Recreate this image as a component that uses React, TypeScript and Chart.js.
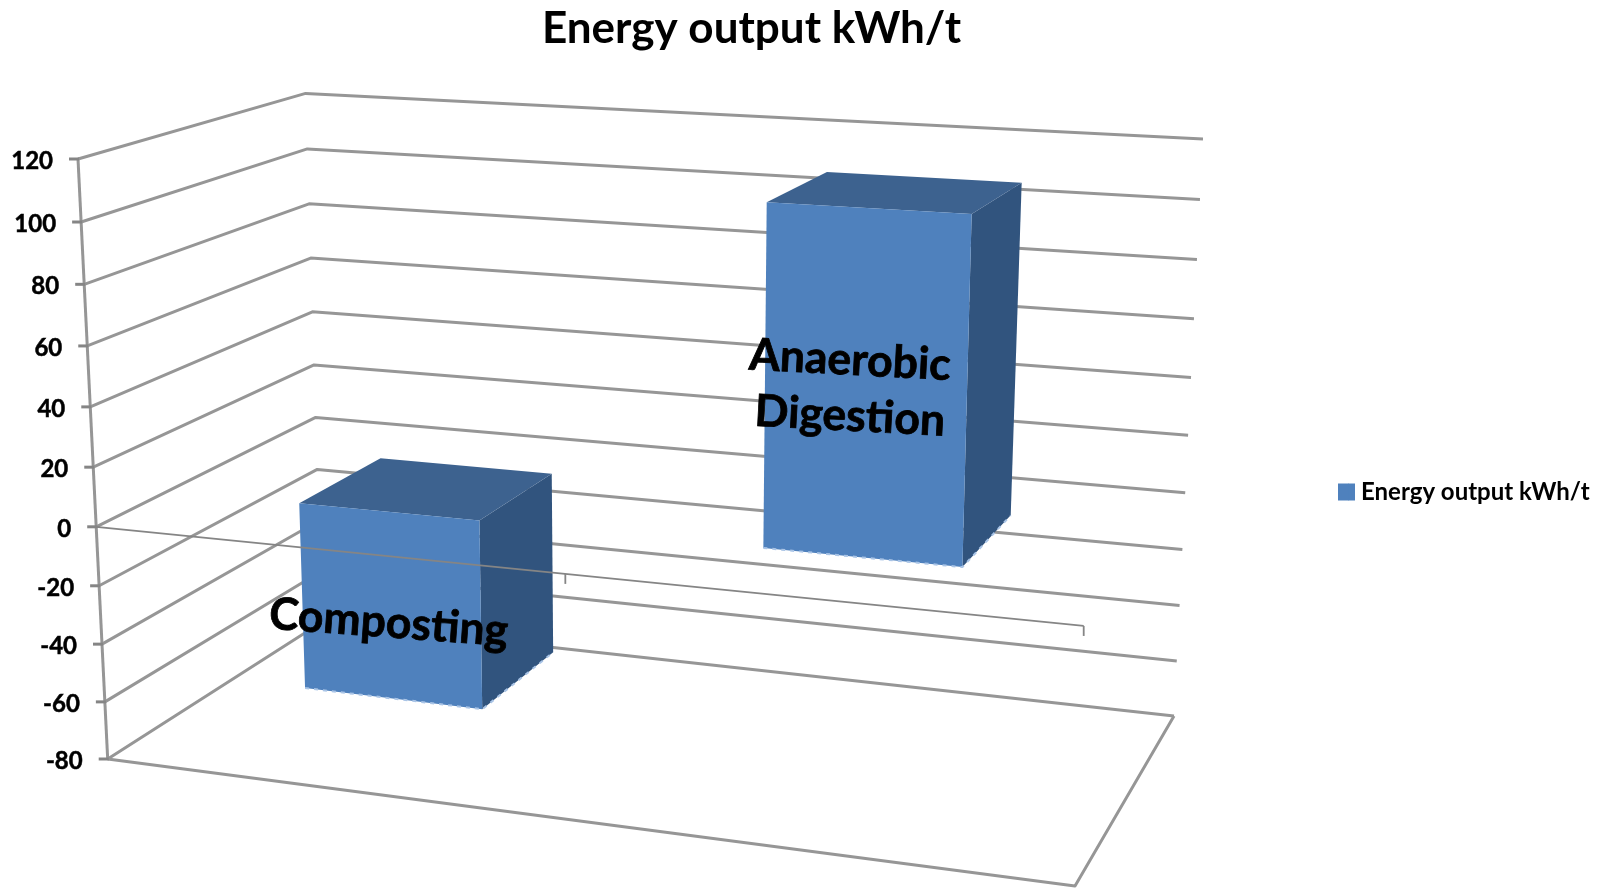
import React, { useEffect, useRef } from "react";
import { Chart, registerables } from "chart.js";

Chart.register(...registerables);

// ---- data ----
const categories: (string | string[])[] = ["Composting", ["Anaerobic", "Digestion"]];
const seriesName = "Energy output kWh/t";
const seriesValues = [-65, 110];
const valueTicks = [-80, -60, -40, -20, 0, 20, 40, 60, 80, 100, 120];

// ---- camera: where the plot box's eight corners land on the page ----
type Pt = [number, number];
const floorBox = { fl: [107.7, 759] as Pt, fr: [1075, 886] as Pt, bl: [322, 622] as Pt, br: [1174, 716] as Pt };
const ceilBox = { fl: [78, 159] as Pt, fr: [1097.5, 214] as Pt, bl: [305.6, 93.4] as Pt, br: [1203, 139] as Pt };
const persU = 1.105;
const persV = 1.056;
const barDepth = [0.33, 0.73];
const labelNudge: Pt[] = [[-2, 17], [-15, 3]];

const FONT = "Lato, Carlito, sans-serif";
const GRID = "#969696";
const AXIS = "#858585";
const FRONT = "#4f81bd";
const TOP = "#3d628f";
const SIDE = "#31547e";
const EDGE = "#a9c4e6";

const mix = (a: Pt, b: Pt, k: number): Pt => [a[0] + (b[0] - a[0]) * k, a[1] + (b[1] - a[1]) * k];
const persp = (t: number, k: number) => t / (t + k * (1 - t));

function project(u: number, v: number, w: number): Pt {
  const a = persp(u, persU);
  const s = persp(v, persV);
  const fl = mix(floorBox.fl, ceilBox.fl, s);
  const fr = mix(floorBox.fr, ceilBox.fr, s);
  const bl = mix(floorBox.bl, ceilBox.bl, s);
  const br = mix(floorBox.br, ceilBox.br, s);
  return mix(mix(fl, fr, a), mix(bl, br, a), w);
}

function poly(ctx: CanvasRenderingContext2D, pts: Pt[], fill: string) {
  ctx.beginPath();
  pts.forEach((p, i) => (i ? ctx.lineTo(p[0], p[1]) : ctx.moveTo(p[0], p[1])));
  ctx.closePath();
  ctx.fillStyle = fill;
  ctx.fill();
}

function line(ctx: CanvasRenderingContext2D, pts: Pt[], color: string, width: number, dash: number[] = []) {
  ctx.beginPath();
  pts.forEach((p, i) => (i ? ctx.lineTo(p[0], p[1]) : ctx.moveTo(p[0], p[1])));
  ctx.strokeStyle = color;
  ctx.lineWidth = width;
  ctx.setLineDash(dash);
  ctx.stroke();
  ctx.setLineDash([]);
}

const box3d = {
  id: "box3d",
  afterLayout(chart: any) {
    const t = chart.titleBlock;
    t.left = 0;
    t.right = 1503;
    const l = chart.legend;
    l.left = 1328;
    l.right = 1608;
    l.top = 470;
    l.bottom = 520;
  },
  beforeDatasetsDraw(chart: any) {
    const { ctx, chartArea: ca, scales } = chart;
    const vOf = (val: number) => (ca.bottom - scales.y.getPixelForValue(val)) / (ca.bottom - ca.top);
    ctx.save();
    ctx.lineJoin = "round";
    // walls: every value tick runs along the left wall then the back wall
    scales.y.ticks.forEach((tick: any) => {
      const v = vOf(tick.value);
      line(ctx, [project(0, v, 0), project(0, v, 1), project(1, v, 1)], GRID, 3);
    });
    // floor and value axis
    line(ctx, [project(0, 0, 0), project(1, 0, 0), project(1, 0, 1)], GRID, 3);
    line(ctx, [project(0, 0, 0), project(0, 1, 0)], GRID, 3);
    // bars
    const meta = chart.getDatasetMeta(0);
    meta.data.forEach((el: any) => {
      const u0 = (el.x - el.width / 2 - ca.left) / (ca.right - ca.left);
      const u1 = (el.x + el.width / 2 - ca.left) / (ca.right - ca.left);
      const vA = (ca.bottom - el.y) / (ca.bottom - ca.top);
      const vB = (ca.bottom - el.base) / (ca.bottom - ca.top);
      const vt = Math.max(vA, vB);
      const vb = Math.min(vA, vB);
      const [w0, w1] = barDepth;
      poly(ctx, [project(u1, vt, w0), project(u1, vt, w1), project(u1, vb, w1), project(u1, vb, w0)], SIDE);
      poly(ctx, [project(u0, vt, w0), project(u0, vt, w1), project(u1, vt, w1), project(u1, vt, w0)], TOP);
      poly(ctx, [project(u0, vt, w0), project(u1, vt, w0), project(u1, vb, w0), project(u0, vb, w0)], FRONT);
      line(ctx, [project(u0, vb, w0), project(u1, vb, w0), project(u1, vb, w1)], EDGE, 2, [4, 5]);
    });
    ctx.restore();
    return false;
  },
  afterDraw(chart: any) {
    const { ctx, chartArea: ca, scales } = chart;
    const vOf = (val: number) => (ca.bottom - scales.y.getPixelForValue(val)) / (ca.bottom - ca.top);
    ctx.save();
    // widen the legend swatch towards its text
    const hit = chart.legend.legendHitBoxes[0];
    if (hit) {
      ctx.fillStyle = FRONT;
      ctx.fillRect(hit.left + 10.5, hit.top + (hit.height - 17) / 2, 6.5, 17);
    }
    // category axis at value zero, in front of the bars
    const v0 = vOf(0);
    line(ctx, [project(0, v0, 0), project(1, v0, 0)], AXIS, 1.8);
    categories.forEach((_, i) => {
      const p = project((i + 1) / categories.length, v0, 0);
      line(ctx, [p, [p[0], p[1] + 10]], AXIS, 1.8);
    });
    // value axis ticks and labels
    ctx.font = `bold 24px ${FONT}`;
    ctx.textAlign = "right";
    ctx.textBaseline = "middle";
    scales.y.ticks.forEach((tick: any) => {
      const p = project(0, vOf(tick.value), 0);
      line(ctx, [[p[0] - 9, p[1]], [p[0] + 1, p[1]]], AXIS, 3);
      ctx.fillStyle = "#000";
      ctx.strokeStyle = "#000";
      ctx.lineWidth = 0.5;
      ctx.fillText(String(tick.value), p[0] - 25, p[1] + 2);
      ctx.strokeText(String(tick.value), p[0] - 25, p[1] + 2);
    });
    // data labels, on the front face of each bar
    const meta = chart.getDatasetMeta(0);
    meta.data.forEach((el: any, i: number) => {
      const u = (el.x - ca.left) / (ca.right - ca.left);
      const vm = ((ca.bottom - el.y) + (ca.bottom - el.base)) / 2 / (ca.bottom - ca.top);
      const c = project(u, vm, barDepth[0]);
      const lines = ([] as string[]).concat(categories[i] as any);
      lines.forEach((s, k) => {
        const y = (k - (lines.length - 1) / 2) * 56;
        ctx.save();
        ctx.translate(c[0] + labelNudge[i][0], c[1] + labelNudge[i][1] + y);
        ctx.rotate((lines.length > 1 ? 3 : 4.2) * Math.PI / 180);
        ctx.font = `bold 44.5px ${FONT}`;
        ctx.textAlign = "center";
        ctx.textBaseline = "middle";
        ctx.fillStyle = "#000";
        ctx.strokeStyle = "#000";
        ctx.lineWidth = 0.8;
        ctx.fillText(s, 0, 0);
        ctx.strokeText(s, 0, 0);
        ctx.restore();
      });
    });
    ctx.restore();
  },
};

export default function App() {
  const ref = useRef<HTMLCanvasElement | null>(null);
  useEffect(() => {
    document.body.style.margin = "0";
    document.body.style.background = "#fff";
    const chart = new Chart(ref.current!, {
      type: "bar",
      data: {
        labels: categories as any,
        datasets: [{ label: seriesName, data: seriesValues, backgroundColor: FRONT, categoryPercentage: 1, barPercentage: 0.4 }],
      },
      options: {
        responsive: false,
        animation: false,
        devicePixelRatio: 1,
        plugins: {
          title: {
            display: true,
            text: seriesName,
            color: "#000",
            font: { family: FONT, size: 44, weight: "bold" },
            padding: { top: 2, bottom: 10 },
          },
          legend: {
            display: true,
            position: "right",
            align: "start",
            labels: { color: "#000", boxWidth: 11, boxHeight: 17, font: { family: FONT, size: 24, weight: "bold" } },
          },
          tooltip: { enabled: false },
        },
        scales: {
          x: { display: false },
          y: {
            display: false,
            min: -80,
            max: 120,
            afterBuildTicks: (axis: any) => {
              axis.ticks = valueTicks.map((value) => ({ value }));
            },
          },
        },
      },
      plugins: [box3d as any],
    });
    return () => chart.destroy();
  }, []);
  return <canvas ref={ref} width={1608} height={888} style={{ display: "block", filter: "blur(0.6px)" }} />;
}
